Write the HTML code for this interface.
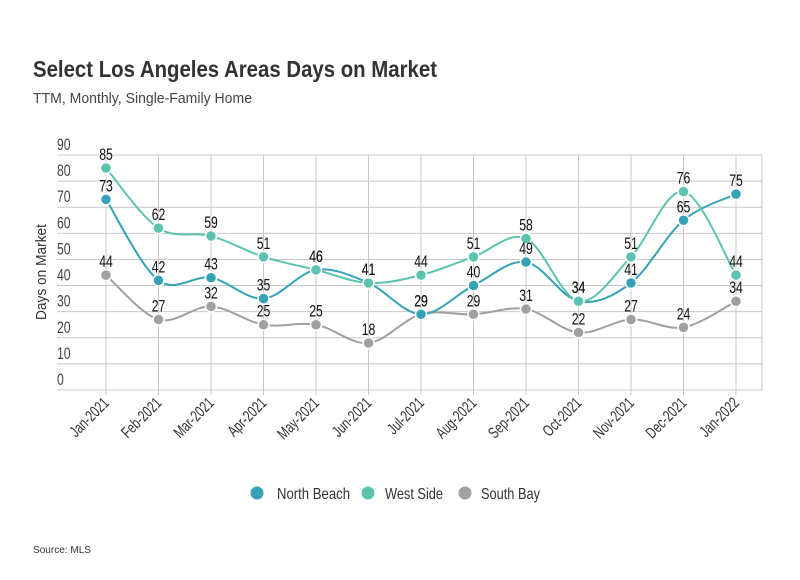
<!DOCTYPE html>
<html><head><meta charset="utf-8"><style>
body{margin:0;background:#fff;}
svg text{font-family:"Liberation Sans",sans-serif;}
</style></head><body>
<svg id="chart" width="800" height="575" xmlns="http://www.w3.org/2000/svg">
<text x="33" y="77" font-size="23" font-weight="bold" fill="#333" textLength="404" lengthAdjust="spacingAndGlyphs">Select Los Angeles Areas Days on Market</text>
<text x="33" y="103" font-size="15" fill="#444" textLength="219" lengthAdjust="spacingAndGlyphs">TTM, Monthly, Single-Family Home</text>
<text transform="translate(46,272) rotate(-90)" text-anchor="middle" font-size="15" fill="#333" textLength="96" lengthAdjust="spacingAndGlyphs">Days on Market</text>
<g id="grid"></g><g id="series"></g><g id="labels"></g>
<g>
<g><circle cx="257" cy="493" r="6.5" fill="#35a3b5"/><text x="277" y="499" font-size="16" fill="#333" textLength="73" lengthAdjust="spacingAndGlyphs">North Beach</text></g>
<g><circle cx="368" cy="493" r="6.5" fill="#5cc3b0"/><text x="385" y="499" font-size="16" fill="#333" textLength="58" lengthAdjust="spacingAndGlyphs">West Side</text></g>
<g><circle cx="465" cy="493" r="6.5" fill="#a0a0a0"/><text x="481" y="499" font-size="16" fill="#333" textLength="59" lengthAdjust="spacingAndGlyphs">South Bay</text></g>
</g>
<text x="33" y="553" font-size="10" fill="#333" textLength="58" lengthAdjust="spacingAndGlyphs">Source:  MLS</text>
</svg>
<script>
const categories=["Jan-2021","Feb-2021","Mar-2021","Apr-2021","May-2021","Jun-2021","Jul-2021","Aug-2021","Sep-2021","Oct-2021","Nov-2021","Dec-2021","Jan-2022"];
const northBeach=[73,42,43,35,46,41,29,40,49,34,41,65,75];
const westSide=[85,62,59,51,46,41,44,51,58,34,51,76,44];
const southBay=[44,27,32,25,25,18,29,29,31,22,27,24,34];
const yTicks=[0,10,20,30,40,50,60,70,80,90];
const NS="http://www.w3.org/2000/svg";
const X0=106,DX=52.5,Y0=390,YS=(390-155)/90;
const xs=i=>X0+i*DX, ys=v=>Y0-v*YS;
function mk(t,a,p){const e=document.createElementNS(NS,t);for(const k in a)e.setAttribute(k,a[k]);p.appendChild(e);return e;}
function narrow(t,f){const w=t.getComputedTextLength();t.setAttribute('textLength',w*f);t.setAttribute('lengthAdjust','spacingAndGlyphs');}
const grid=document.getElementById('grid');
yTicks.forEach(v=>{
 const l=mk('line',{x1:57,x2:762,y1:ys(v),y2:ys(v),stroke:'#c8c8c8','stroke-width':1},grid);
 
 
 const t=mk('text',{x:57,y:ys(v)-5,'font-size':17,fill:'#444'},grid);t.textContent=v;
 
 
 narrow(t,0.72);
});
categories.forEach((c,i)=>{
 const l=mk('line',{x1:xs(i),x2:xs(i),y1:155,y2:395,stroke:'#c8c8c8','stroke-width':1},grid);
 
 
 const t=mk('text',{transform:`translate(${xs(i)+4},${404}) rotate(-45)`,'text-anchor':'end','font-size':16,fill:'#333'},grid);t.textContent=c;
 
 
 narrow(t,0.72);
});
const rl=mk('line',{x1:762,x2:762,y1:155,y2:390,stroke:'#c8c8c8'},grid);


function path(vals){
 const p=vals.map((v,i)=>[xs(i),ys(v)]);let d=`M${p[0][0]},${p[0][1]}`;
 for(let i=0;i<p.length-1;i++){const a=p[i-1]||p[i],b=p[i],c=p[i+1],e=p[i+2]||c;
  d+=` C${b[0]+(c[0]-a[0])/6},${b[1]+(c[1]-a[1])/6} ${c[0]-(e[0]-b[0])/6},${c[1]-(e[1]-b[1])/6} ${c[0]},${c[1]}`;}
 return d;}
const sg=document.getElementById('series'),lg=document.getElementById('labels');
[[southBay,'#a0a0a0','south-bay'],[northBeach,'#35a3b5','north-beach'],[westSide,'#5cc3b0','west-side']].forEach(([vals,col,name])=>{
 const pth=mk('path',{d:path(vals),fill:'none',stroke:col,'stroke-width':2},sg);
 
 
 vals.forEach((v,i)=>{
  const c=mk('circle',{cx:xs(i),cy:ys(v),r:5.5,fill:col,stroke:'#fff','stroke-width':1.5},sg);
  
  
  const t=mk('text',{x:xs(i),y:ys(v)-8,'text-anchor':'middle','font-size':17,fill:'#111'},lg);t.textContent=v;
  
  
  narrow(t,0.72);
 });
});
</script>
</body></html>
